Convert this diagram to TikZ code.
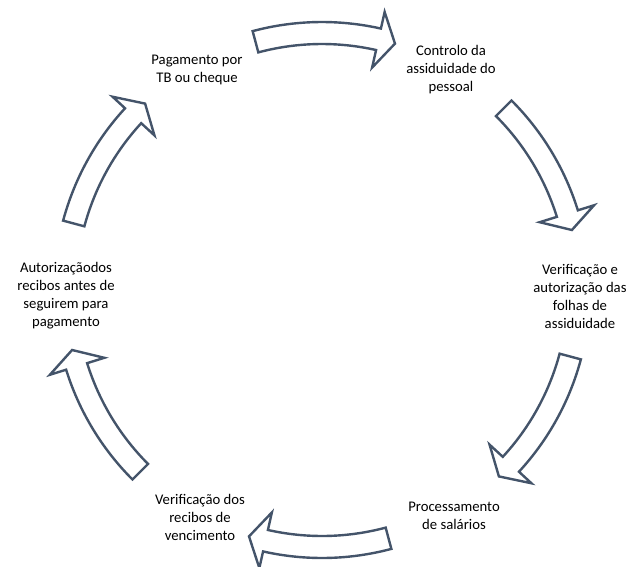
\documentclass[tikz,border=0pt]{standalone}
\usepackage{fontspec}
\setmainfont{Carlito}
\definecolor{arrowline}{HTML}{44546A}
\tikzset{
  cyclearrow/.style={draw=arrowline, fill=white, line width=2.4pt, line join=miter},
  steplabel/.style={align=center, font=\fontsize{14.7}{18}\selectfont, text=black, inner sep=0pt}
}
\begin{document}
\begin{tikzpicture}[x=1pt,y=-1pt]
\useasboundingbox (0,0) rectangle (633,566);
\coordinate (C) at (322,290);
\foreach \r in {0,60,...,300}{
  \begin{scope}[shift={(C)}, rotate=\r]
    \draw[cyclearrow] (-105:268) arc[start angle=-105,end angle=-77.3,radius=268]
      -- (-77.3:285) -- (-73.5:257) -- (-77.3:228) -- (-77.3:246)
      arc[start angle=-77.3,end angle=-105,radius=246] -- cycle;
  \end{scope}
}
\node[steplabel] (n1) at (197,70) {Pagamento por\\TB ou cheque};
\node[steplabel] (n2) at (451,70) {Controlo da\\assiduidade do\\pessoal};
\node[steplabel] (n3) at (580,296) {Verificação e\\autorização das\\folhas de\\assiduidade};
\node[steplabel] (n4) at (454,516) {Processamento\\de salários};
\node[steplabel] (n5) at (200,517) {Verificação dos\\recibos de\\vencimento};
\node[steplabel] (n6) at (66,296) {Autorizaçãodos\\recibos antes de\\seguirem para\\pagamento};
\end{tikzpicture}
\end{document}
